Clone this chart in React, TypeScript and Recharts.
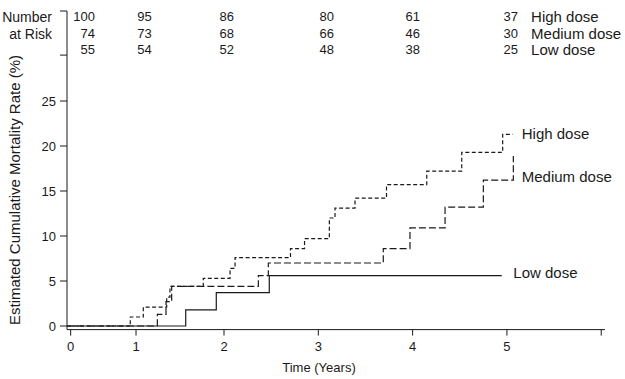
import React from "react";
import {
  LineChart,
  Line,
  Scatter,
  XAxis,
  YAxis,
  Label,
} from "recharts";

// step data (time on the drawn axis, rate in %)
const highT = [0.335, 1.006, 1.144, 1.392, 1.427, 1.78, 2.064, 2.117, 2.705, 2.854, 3.117, 3.177, 3.389, 3.723, 4.15, 4.521, 4.955, 5.061];
const highRate = [0, 1.0, 2.1, 3.2, 4.4, 5.3, 6.4, 7.6, 8.6, 9.7, 12.0, 13.1, 14.2, 15.7, 17.2, 19.3, 21.3, 21.3];

const mediumT = [0.335, 1.293, 1.385, 1.445, 2.364, 2.47, 3.689, 3.972, 4.344, 4.75, 5.068];
const mediumRate = [0, 1.3, 2.7, 4.4, 5.6, 7.0, 8.6, 10.9, 13.2, 16.2, 18.9];

const lowT = [0.335, 1.594, 1.918, 2.48, 4.945];
const lowRate = [0, 1.8, 3.7, 5.6, 5.6];

// axis ticks
const xTickValues = [0.374, 1.067, 2, 3, 4, 5, 6];
const xTickLabels = ["0", "1", "2", "3", "4", "5", ""];
const yTickValues = [0, 5, 10, 15, 20, 25, 30.1, 35];
const yTickLabels = ["0", "5", "10", "15", "20", "25", "", ""];

// number at risk table
const riskColT = [0.632, 1.233, 2.106, 3.166, 4.078, 5.117];
const highRisk = [100, 95, 86, 80, 61, 37];
const mediumRisk = [74, 73, 68, 66, 46, 30];
const lowRisk = [55, 54, 52, 48, 38, 25];
const riskRowRate = [34.37, 32.52, 30.74];
const groupNames = ["High dose", "Medium dose", "Low dose"];
const tableLabelT = 5.256;

// curve end labels
const curveLabelT = [5.157, 5.157, 5.068];
const curveLabelRate = [21.4, 16.6, 5.92];

const FONT = "'Liberation Sans', Arial, Helvetica, sans-serif";
const INK = "#1a1a1a";

const toPoints = (ts: number[], rates: number[]) =>
  ts.map((t, i) => ({ t, rate: rates[i] }));

const highData = toPoints(highT, highRate);
const mediumData = toPoints(mediumT, mediumRate);
const lowData = toPoints(lowT, lowRate);

const riskRows = [highRisk, mediumRisk, lowRisk].map((row, r) => [
  ...row.map((n, i) => ({
    t: riskColT[i],
    rate: riskRowRate[r],
    label: String(n),
    anchor: "end",
    size: 13,
  })),
  {
    t: tableLabelT,
    rate: riskRowRate[r],
    label: groupNames[r],
    anchor: "start",
    size: 15,
  },
]);

const curveLabels = groupNames.map((name, i) => ({
  t: curveLabelT[i],
  rate: curveLabelRate[i],
  label: name,
  anchor: "start",
  size: 15,
}));

const TextMark = (p: any) => (
  <text
    x={p.cx}
    y={p.cy}
    dy="0.36em"
    textAnchor={p.payload.anchor}
    fontSize={p.payload.size}
    fontFamily={FONT}
    fill={INK}
  >
    {p.payload.label}
  </text>
);

export default function App() {
  return (
    <div style={{ position: "absolute", left: 0, top: 0, width: 625, height: 379, background: "#fff" }}>
      <LineChart
        width={625}
        height={379}
        margin={{ top: 11, right: 20, bottom: 0, left: 17 }}
        style={{ overflow: "visible" }}
      >
        <XAxis
          dataKey="t"
          type="number"
          domain={[0.335, 6.04]}
          ticks={xTickValues}
          tickFormatter={(v: number) => xTickLabels[xTickValues.indexOf(v)] ?? ""}
          height={49.4}
          stroke={INK}
          tickSize={6}
          tickMargin={6}
          tick={{ fontSize: 13, fontFamily: FONT, fill: INK }}
          interval={0}
        >
          <Label
            content={(props: any) => {
              const vb = props.viewBox;
              return (
                <text
                  x={vb.x + vb.width / 2 - 17}
                  y={372}
                  textAnchor="middle"
                  fontSize={13}
                  fontFamily={FONT}
                  fill={INK}
                >
                  Time (Years)
                </text>
              );
            }}
          />
        </XAxis>
        <YAxis
          type="number"
          domain={[-0.4, 35]}
          ticks={yTickValues}
          tickFormatter={(v: number) => yTickLabels[yTickValues.indexOf(v)] ?? ""}
          width={50}
          stroke={INK}
          tickSize={7}
          tickMargin={4}
          tick={{ fontSize: 13, fontFamily: FONT, fill: INK }}
          interval={0}
        >
          <Label
            content={() => (
              <g fontFamily={FONT} fill={INK}>
                <text
                  x={15}
                  y={190}
                  transform="rotate(-90 15 190)"
                  textAnchor="middle"
                  dy="0.36em"
                  fontSize={15}
                >
                  Estimated Cumulative Mortality Rate (%)
                </text>
                <text x={52} y={17} dy="0.36em" textAnchor="end" fontSize={14}>
                  Number
                </text>
                <text x={52} y={34} dy="0.36em" textAnchor="end" fontSize={14}>
                  at Risk
                </text>
              </g>
            )}
          />
        </YAxis>
        <Line
          data={lowData}
          dataKey="rate"
          type="stepAfter"
          stroke={INK}
          strokeWidth={1.2}
          dot={false}
          isAnimationActive={false}
        />
        <Line
          data={mediumData}
          dataKey="rate"
          type="stepAfter"
          stroke={INK}
          strokeWidth={1.2}
          strokeDasharray="7 3"
          dot={false}
          isAnimationActive={false}
        />
        <Line
          data={highData}
          dataKey="rate"
          type="stepAfter"
          stroke={INK}
          strokeWidth={1.2}
          strokeDasharray="4 2.5"
          dot={false}
          isAnimationActive={false}
        />
        {riskRows.map((row, i) => (
          <Scatter
            key={"risk" + i}
            data={row}
            dataKey="rate"
            shape={TextMark}
            isAnimationActive={false}
          />
        ))}
        <Scatter
          data={curveLabels}
          dataKey="rate"
          shape={TextMark}
          isAnimationActive={false}
        />
      </LineChart>
    </div>
  );
}
